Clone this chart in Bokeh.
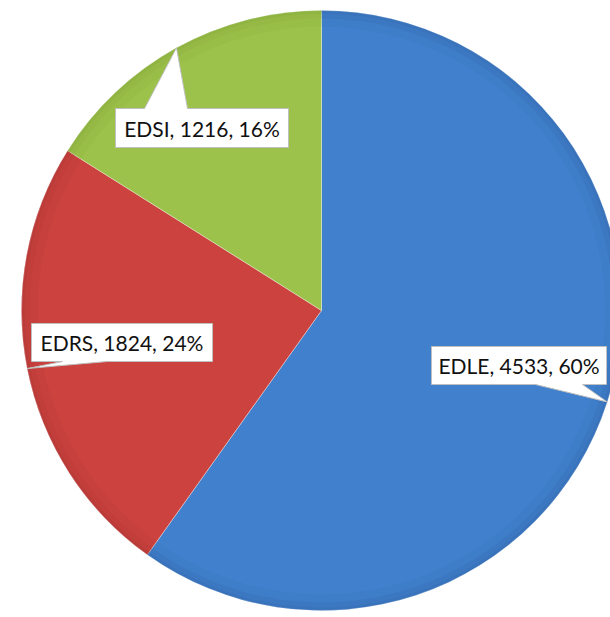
import numpy as np
from bokeh.plotting import figure
from bokeh.models import Range1d, ColumnDataSource
from bokeh.core.properties import value
from bokeh.embed import file_html
from bokeh.resources import INLINE

# ---- data ----
categories = ["EDLE", "EDRS", "EDSI"]
values = [4533, 1824, 1216]
percent_labels = ["60%", "24%", "16%"]
colors = ["#4080CC", "#CB423F", "#9CC24B"]
rim_colors = ["#2F5E9E", "#A03330", "#7C9E35"]

# ---- layout (pixel-like data units) ----
W, H = 610, 617
CX, CY, R = 321, 307, 300

total = sum(values)
frac = np.array(values) / total
# clockwise from 12 o'clock
ends = np.pi / 2 - 2 * np.pi * np.cumsum(frac)
starts = np.concatenate([[np.pi / 2], ends[:-1]])
mids = (starts + ends) / 2

p = figure(width=W, height=H, output_backend="svg", toolbar_location=None,
           x_range=Range1d(0, W), y_range=Range1d(0, H), min_border=0)
p.axis.visible = False
p.grid.visible = False
p.outline_line_color = None
p.background_fill_color = "white"
p.border_fill_color = "white"

src = ColumnDataSource(dict(start=starts, end=ends, color=colors, rim=rim_colors))
p.wedge(x=CX, y=CY, radius=R, start_angle="end", end_angle="start",
        fill_color="color", line_color="white", line_alpha=0.35, line_width=1, source=src)
# rim bevel shading
for inner, a in [(284, 0.10), (292, 0.14), (297, 0.18)]:
    p.annular_wedge(x=CX, y=CY, inner_radius=inner, outer_radius=R,
                    start_angle="end", end_angle="start",
                    fill_color="rim", fill_alpha=a, line_color=None, source=src)

# ---- callouts ----
boxes = {
    "EDLE": (431, 606, 233, 271, "bottom", 535, 582),
    "EDRS": (31, 212, 256, 294, "bottom", 62, 107),
    "EDSI": (115, 288, 470, 509, "top", 144, 187),
}
xs, ys, tx, ty, texts = [], [], [], [], []
for i, c in enumerate(categories):
    L, Rr, B, T, side, b1, b2 = boxes[c]
    tipx = CX + R * np.cos(mids[i])
    tipy = CY + R * np.sin(mids[i])
    if side == "top":
        px = [L, L, b1, tipx, b2, Rr, Rr]
        py = [B, T, T, tipy, T, T, B]
    else:
        px = [L, L, Rr, Rr, b2, tipx, b1]
        py = [B, T, T, B, B, tipy, B]
    xs.append(px)
    ys.append(py)
    tx.append((L + Rr) / 2)
    ty.append((B + T) / 2)
    texts.append(f"{c}, {values[i]}, {percent_labels[i]}")

p.patches(xs=xs, ys=ys, fill_color="white", line_color="#BFBFBF", line_width=1)
p.text(x=tx, y=ty, text=texts, text_align="center", text_baseline="middle",
       text_font=value("Lato"), text_font_size="21px", text_color="#111111")

open("out.html", "w").write(file_html(p, INLINE))
